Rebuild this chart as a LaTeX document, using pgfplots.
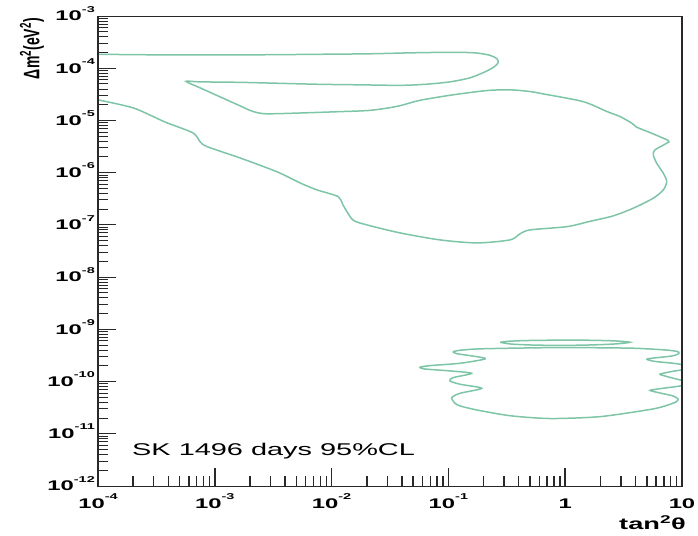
\documentclass[border=0pt]{standalone}
\usepackage{fontspec}
\setmainfont{Liberation Sans}[FakeStretch=1.7]
\newfontfamily\uprightsans{Liberation Sans}
\usepackage{pgfplots}
\pgfplotsset{compat=1.18}
\definecolor{contourline}{RGB}{125,197,166}
\definecolor{frame}{RGB}{40,40,40}
% decade label 10^k set in the text font, exponent kept out of the box height
\newcommand{\dec}[1]{10\smash{\raisebox{0.62em}{\fontsize{8.5bp}{8.5bp}\selectfont #1}}}

\begin{document}
\begin{tikzpicture}
\path[use as bounding box] (-98bp,-50bp) rectangle (600bp,486bp);
\begin{axis}[
  name=ax,
  xmode=log, ymode=log,
  scale only axis, width=584bp, height=470bp,
  xmin=1e-4, xmax=10, ymin=1e-12, ymax=1e-3,
  axis line style={line width=1bp, frame},
  tick pos=left,
  tick align=inside,
  major tick length=18bp, minor tick length=10bp,
  xtick style={frame, line width=1.5bp},
  ytick style={frame, line width=1bp},
  xtick={1e-4,1e-3,1e-2,1e-1,1,10},
  xticklabels={\dec{-4},\dec{-3},\dec{-2},\dec{-1},1,10},
  minor xtick={2e-4,3e-4,4e-4,5e-4,6e-4,7e-4,8e-4,9e-4,
               2e-3,3e-3,4e-3,5e-3,6e-3,7e-3,8e-3,9e-3,
               2e-2,3e-2,4e-2,5e-2,6e-2,7e-2,8e-2,9e-2,
               0.2,0.3,0.4,0.5,0.6,0.7,0.8,0.9,
               2,3,4,5,6,7,8,9},
  ytick={1e-12,1e-11,1e-10,1e-9,1e-8,1e-7,1e-6,1e-5,1e-4,1e-3},
  yticklabels={\dec{-12},\dec{-11},\dec{-10},\dec{-9},\dec{-8},\dec{-7},\dec{-6},\dec{-5},\dec{-4},\dec{-3}},
  minor ytick={2e-12,3e-12,4e-12,5e-12,6e-12,7e-12,8e-12,9e-12,
               2e-11,3e-11,4e-11,5e-11,6e-11,7e-11,8e-11,9e-11,
               2e-10,3e-10,4e-10,5e-10,6e-10,7e-10,8e-10,9e-10,
               2e-9,3e-9,4e-9,5e-9,6e-9,7e-9,8e-9,9e-9,
               2e-8,3e-8,4e-8,5e-8,6e-8,7e-8,8e-8,9e-8,
               2e-7,3e-7,4e-7,5e-7,6e-7,7e-7,8e-7,9e-7,
               2e-6,3e-6,4e-6,5e-6,6e-6,7e-6,8e-6,9e-6,
               2e-5,3e-5,4e-5,5e-5,6e-5,7e-5,8e-5,9e-5,
               2e-4,3e-4,4e-4,5e-4,6e-4,7e-4,8e-4,9e-4},
  ticklabel style={font=\bfseries\fontsize{14bp}{14bp}\selectfont},
  xticklabel style={anchor=north, yshift=-9bp},
  yticklabel style={anchor=east, inner sep=3bp},
  contour/.style={contourline, line width=1.5bp, no markers, smooth, tension=0.45},
]

% upper island joined to the large-mixing-angle region
\addplot[contour] coordinates {
  (1e-4,1.85e-4) (2.79e-4,1.81e-4) (7.47e-4,1.81e-4) (2.44e-3,1.81e-4)
  (7.96e-3,1.85e-4) (2.13e-2,1.89e-4) (4.69e-2,1.97e-4) (1.03e-1,2.02e-4)
  (1.69e-1,1.97e-4) (2.27e-1,1.77e-4) (2.61e-1,1.51e-4) (2.66e-1,1.27e-4)
  (2.46e-1,1.06e-4) (2.06e-1,8.53e-5) (1.53e-1,6.55e-5) (1.03e-1,5.48e-5)
  (6.31e-2,4.92e-5) (3.85e-2,4.70e-5) (1.75e-2,4.81e-5) (7.96e-3,4.92e-5)
  (3.61e-3,5.14e-5) (1.64e-3,5.37e-5) (7.47e-4,5.48e-5) (5.67e-4,5.61e-5)
  (7.47e-4,4.22e-5) (1.11e-3,2.83e-5) (1.64e-3,1.91e-5) (2.00e-3,1.56e-5)
  (2.34e-3,1.40e-5) (2.80e-3,1.34e-5) (4.40e-3,1.37e-5) (1.03e-2,1.46e-5)
  (2.13e-2,1.56e-5) (3.63e-2,1.86e-5) (5.71e-2,2.43e-5) (1.09e-1,3.09e-5)
  (2.14e-1,3.74e-5) (3.37e-1,3.86e-5) (5.00e-1,3.58e-5) (6.46e-1,3.23e-5)
  (1.42,2.30e-5) (2.28,1.48e-5) (2.94,1.19e-5) (3.71,8.88e-6) (4.09,7.44e-6)
  (5.32,5.86e-6) (7.64,4.12e-6) (7.40,3.67e-6) (5.87,2.73e-6) (5.68,2.19e-6)
  (6.07,1.52e-6) (6.92,9.78e-7) (7.40,6.76e-7) (6.92,4.68e-7) (5.68,3.25e-7)
  (3.83,2.09e-7) (2.58,1.49e-7) (1.63,1.17e-7) (1.04,9.27e-8) (5.00e-1,8.02e-8)
  (4.10e-1,6.73e-8) (3.37e-1,5.16e-8) (1.76e-1,4.52e-8) (8.47e-2,5.16e-8)
  (3.85e-2,7.03e-8) (2.01e-2,1.0e-7) (1.52e-2,1.25e-7) (1.25e-2,2.42e-7)
  (1.14e-2,3.48e-7) (7.50e-3,4.68e-7) (5.36e-3,6.38e-7) (3.41e-3,1.04e-6)
  (1.64e-3,1.92e-6) (8.57e-4,3.16e-6) (7.47e-4,3.94e-6) (6.50e-4,5.78e-6)
  (3.90e-4,8.99e-6) (3.40e-4,1.03e-5) (2.00e-4,1.74e-5) (1e-4,2.48e-5)
};

% vacuum-oscillation region
\addplot[contour] coordinates {
  (1.09e-1,3.74e-10) (1.26e-1,3.98e-10) (1.75e-1,4.21e-10) (3.37e-1,4.35e-10)
  (7.41e-1,4.46e-10) (1.43,4.46e-10) (3.83,4.35e-10) (7.15,4.03e-10)
  (9.06,3.78e-10) (9.42,3.45e-10) (8.20,3.09e-10) (5.32,2.77e-10)
  (5.01,2.65e-10) (5.87,2.43e-10) (8.71,2.22e-10) (11.3,1.99e-10)
  (11.3,1.74e-10) (8.71,1.60e-10) (6.75,1.43e-10) (6.48,1.37e-10)
  (7.59,1.23e-10) (10,1.05e-10) (11.7,9.40e-11) (9.61,8.24e-11)
  (6.23,7.22e-11) (5.32,6.76e-11) (6.48,6.05e-11) (8.37,5.30e-11)
  (9.25,4.64e-11) (8.88,4.07e-11) (7.15,3.41e-11) (5.32,2.92e-11)
  (1.99,2.13e-11) (7.41e-1,1.96e-11) (3.37e-1,2.22e-11) (1.75e-1,2.86e-11)
  (1.26e-1,3.41e-11) (1.14e-1,3.84e-11) (1.07e-1,4.92e-11) (1.26e-1,5.97e-11)
  (1.93e-1,7.44e-11) (1.26e-1,8.88e-11) (1.03e-1,1.03e-10) (1.10e-1,1.19e-10)
  (1.58e-1,1.44e-10) (1.03e-1,1.60e-10) (6.30e-2,1.74e-10) (5.71e-2,1.88e-10)
  (6.95e-2,2.02e-10) (1.26e-1,2.24e-10) (2.06e-1,2.71e-10) (1.75e-1,3.00e-10)
  (1.18e-1,3.42e-10) (1.09e-1,3.74e-10)
};

% thin band just above
\addplot[contour] coordinates {
  (2.77e-1,5.66e-10) (3.37e-1,5.94e-10) (5.00e-1,6.12e-10) (9.02e-1,6.21e-10)
  (1.63,6.18e-10) (2.67,6.00e-10) (3.59,5.66e-10) (2.67,5.25e-10)
  (1.63,5.02e-10) (9.02e-1,4.92e-10) (5.00e-1,5.02e-10) (3.37e-1,5.25e-10)
  (2.77e-1,5.66e-10)
};
\end{axis}

% heavier vertical frame edges
\draw[frame, line width=2bp] (ax.south west) -- (ax.north west);
\draw[frame, line width=2bp] (ax.south east) -- (ax.north east);

\node[anchor=base west, inner sep=0pt] at ([xshift=34bp,yshift=31bp]ax.south west)
  {\fontsize{17bp}{17bp}\selectfont SK 1496 days 95\%CL};
\node[anchor=north east, inner sep=0pt] at ([xshift=4bp,yshift=-29bp]ax.south east)
  {\bfseries\fontsize{16bp}{16bp}\selectfont tan\textsuperscript{2}θ};
\node[rotate=90, anchor=east, inner sep=0pt] at ([xshift=-66bp,yshift=-2bp]ax.north west)
  {\scalebox{1}[1.6]{\uprightsans\bfseries\fontsize{14bp}{14bp}\selectfont Δm\textsuperscript{2}(eV\textsuperscript{2})}};
\end{tikzpicture}
\end{document}
